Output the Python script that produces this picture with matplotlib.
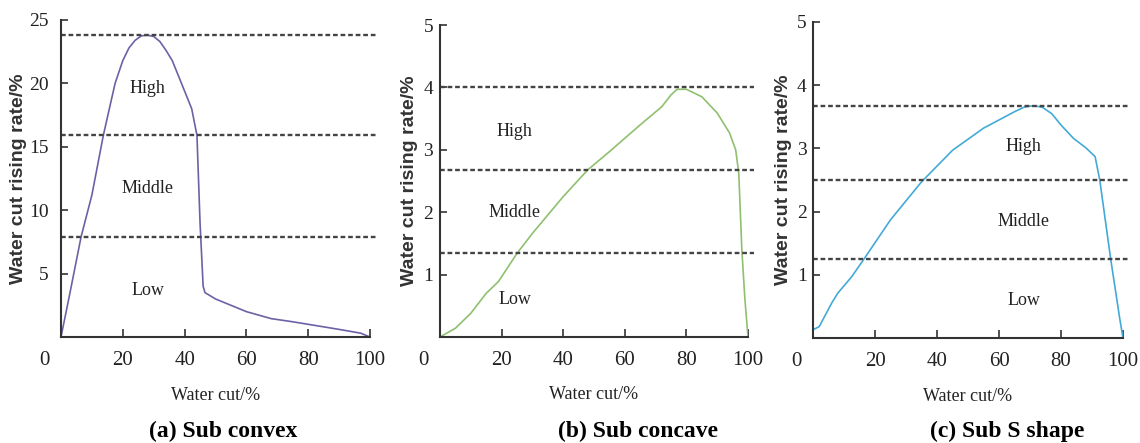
import matplotlib
matplotlib.use("Agg")
import matplotlib.pyplot as plt

plt.rcParams['font.family'] = ['Liberation Serif', 'DejaVu Serif']

# (a) sub convex
xa = [0, 3, 6.5, 10, 13.7, 17.5, 20, 22, 24, 26, 28, 30, 32, 34, 36, 39, 42.3, 44, 45, 46, 46.6, 50, 55, 60, 68, 75, 80, 90, 97, 100]
ya = [0, 3.6, 7.9, 11.2, 15.9, 20.0, 21.8, 22.8, 23.4, 23.75, 23.8, 23.7, 23.3, 22.6, 21.8, 20.0, 18.0, 15.9, 9.0, 4.0, 3.5, 3.0, 2.5, 2.0, 1.45, 1.2, 1.0, 0.6, 0.3, 0]
# (b) sub concave
xb = [0, 5, 10, 15, 19, 25, 30, 40, 48, 55, 65, 72, 75, 77, 80, 85, 90, 94, 96, 97, 98, 99, 100]
yb = [0, 0.14, 0.38, 0.7, 0.89, 1.34, 1.66, 2.25, 2.68, 2.97, 3.4, 3.69, 3.88, 3.97, 3.97, 3.85, 3.59, 3.27, 3.0, 2.63, 1.4, 0.6, 0]
# (c) sub S shape
xc = [0, 2, 6, 8, 12.5, 17, 25, 35, 45, 55, 65, 68, 70, 72, 74, 77, 80, 84, 88, 91, 92.5, 96, 99, 100]
yc = [0.13, 0.18, 0.55, 0.71, 0.97, 1.29, 1.87, 2.47, 2.97, 3.32, 3.58, 3.65, 3.67, 3.67, 3.65, 3.55, 3.37, 3.16, 3.01, 2.87, 2.5, 1.26, 0.29, 0]

levels_a = [23.8, 15.9, 7.9]
levels_b = [4.0, 2.67, 1.35]
levels_c = [3.67, 2.5, 1.25]

ticks_a = [5, 10, 15, 20, 25]
ticks_bc = [1, 2, 3, 4, 5]
xticks = [20, 40, 60, 80, 100]

zones = ["High", "Middle", "Low"]
zone_pos_a = [(28, 19.6), (28, 11.7), (28, 3.7)]
zone_pos_b = [(24.3, 3.3), (24.3, 2.0), (24.3, 0.6)]
zone_pos_c = [(68, 3.03), (68, 1.84), (68, 0.6)]

titles = ["(a) Sub convex", "(b) Sub concave", "(c) Sub S shape"]
colors = ["#6f60a6", "#8fc06e", "#43aad8"]

fig = plt.figure(figsize=(11.4, 4.43), dpi=100)
W, H = 1140, 443

panels = [
    # left px, right px, top px, bottom px, ..., ylabel x, ytick pad
    (61, 370, 20, 337, xa, ya, levels_a, ticks_a, 25, zone_pos_a, -0.11, 9),
    (440, 748, 25, 337, xb, yb, levels_b, ticks_bc, 5, zone_pos_b, -0.071, 5),
    (813, 1123, 22, 338, xc, yc, levels_c, ticks_bc, 5, zone_pos_c, -0.068, 4.5),
]
title_x = [223, 638, 1007]

for i, (l, r, t, b, x, y, lev, yt, ymax, zpos, ylab_x, ypad) in enumerate(panels):
    ax = fig.add_axes([l / W, 1 - b / H, (r - l) / W, (b - t) / H])
    ax.plot(x, y, color=colors[i], lw=1.2)
    for v in lev:
        ax.plot([0, 102], [v, v], color="#444444", lw=1.7,
                linestyle=(0, (2, 1.2)), clip_on=False)
    for name, (zx, zy) in zip(zones, zpos):
        ax.text(zx, zy, name, ha="center", va="center", fontsize=13, color="#222222")
    ax.set_xlim(0, 100)
    ax.set_ylim(0, ymax)
    ax.set_xticks(xticks)
    ax.set_yticks(yt)
    for s in ["top", "right"]:
        ax.spines[s].set_visible(False)
    for s in ["left", "bottom"]:
        ax.spines[s].set_color("#333333")
        ax.spines[s].set_linewidth(1.5)
    ax.tick_params(axis="x", direction="in", length=6, width=1.2, colors="#333333",
                   labelsize=15, pad=10, labelcolor="#222222")
    ax.tick_params(axis="y", direction="in", length=5, width=1.2, colors="#333333",
                   labelsize=14, pad=ypad, labelcolor="#222222")
    ax.annotate("0", xy=(0, 0), xytext=(-12, -17), textcoords="offset points",
                ha="center", va="center", fontsize=15, color="#222222")
    ax.set_xlabel("Water cut/%", fontsize=13, color="#222222")
    ax.xaxis.set_label_coords(0.5, -0.158)
    ax.set_ylabel("Water cut rising rate/%", fontsize=14, fontweight="bold",
                  color="#333333", family="Liberation Sans")
    ax.yaxis.set_label_coords(ylab_x, 0.5)
    fig.text(title_x[i] / W, 1 - 431 / H, titles[i], ha="center", va="center",
             fontsize=17, fontweight="bold", color="black")

fig.savefig("out.png", dpi=100)
